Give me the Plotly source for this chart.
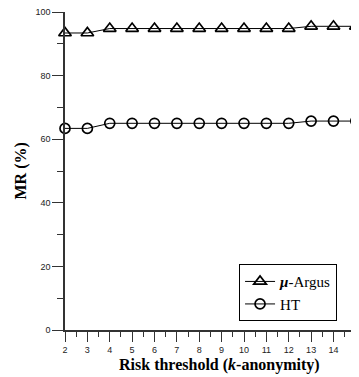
import plotly.graph_objects as go

k_values = [2, 3, 4, 5, 6, 7, 8, 9, 10, 11, 12, 13, 14, 15]
mu_argus = [93.4, 93.4, 94.8, 94.8, 94.8, 94.8, 94.8, 94.8, 94.8, 94.8, 94.8, 95.5, 95.5, 95.5]
ht = [63.4, 63.4, 65.0, 65.0, 65.0, 65.0, 65.0, 65.0, 65.0, 65.0, 65.0, 65.7, 65.7, 65.7]
x_ticks = list(range(2, 16))
y_ticks = [0, 20, 40, 60, 80, 100]

serif = "Liberation Serif, Times New Roman, serif"

fig = go.Figure()
fig.add_trace(go.Scatter(
    x=k_values, y=mu_argus, mode="lines+markers", name="<b><i>μ</i></b>-Argus",
    line=dict(color="black", width=1),
    marker=dict(symbol="triangle-up-open", size=11, color="black", line=dict(width=1.7)),
    cliponaxis=False,
))
fig.add_trace(go.Scatter(
    x=k_values, y=ht, mode="lines+markers", name="HT",
    line=dict(color="black", width=1),
    marker=dict(symbol="circle-open", size=10, color="black", line=dict(width=1.7)),
    cliponaxis=False,
))

fig.update_layout(
    width=351, height=369,
    margin=dict(l=57, r=0, t=4, b=47, autoexpand=False),
    paper_bgcolor="white", plot_bgcolor="white",
    showlegend=True,
    legend=dict(
        x=0.592, y=0.207, xanchor="left", yanchor="top",
        bordercolor="black", borderwidth=1, bgcolor="white",
        font=dict(family=serif, size=15, color="black"),
        tracegroupgap=0, itemwidth=30,
    ),
    font=dict(family="Liberation Sans, Arial, sans-serif", size=9, color="#222"),
    annotations=[
        dict(text="<b>Risk threshold (<i>k</i>-anonymity)</b>", xref="paper", yref="paper",
             x=0.527, y=-0.11, xanchor="center", yanchor="middle", showarrow=False,
             font=dict(family=serif, size=16, color="black")),
        dict(text="<b>MR (%)</b>", xref="paper", yref="paper", textangle=-90,
             x=-0.148, y=0.5, xanchor="center", yanchor="middle", showarrow=False,
             font=dict(family=serif, size=16, color="black")),
    ],
)
fig.update_xaxes(
    range=[2, 15.14], tickvals=x_ticks, ticktext=[str(v) for v in x_ticks],
    automargin=False, ticklabeloverflow="allow",
    showgrid=False, zeroline=False, showline=True, linecolor="#333", linewidth=1.5,
    ticks="outside", ticklen=10, tickwidth=1.3, tickcolor="#333",
    minor=dict(dtick=0.5, tick0=2, ticks="outside", ticklen=5, tickwidth=1.3, tickcolor="#333", showgrid=False),
    tickfont=dict(size=9, color="#222"),
)
fig.update_yaxes(
    range=[0, 100], tickvals=y_ticks, ticktext=[str(v) for v in y_ticks],
    automargin=False, ticklabeloverflow="allow",
    showgrid=False, zeroline=False, showline=True, linecolor="#333", linewidth=1.5,
    ticks="outside", ticklen=11, tickwidth=1.3, tickcolor="#333",
    minor=dict(dtick=10, tick0=0, ticks="outside", ticklen=6, tickwidth=1.3, tickcolor="#333", showgrid=False),
    tickfont=dict(size=9, color="#222"),
)

fig.write_html("out.html")
